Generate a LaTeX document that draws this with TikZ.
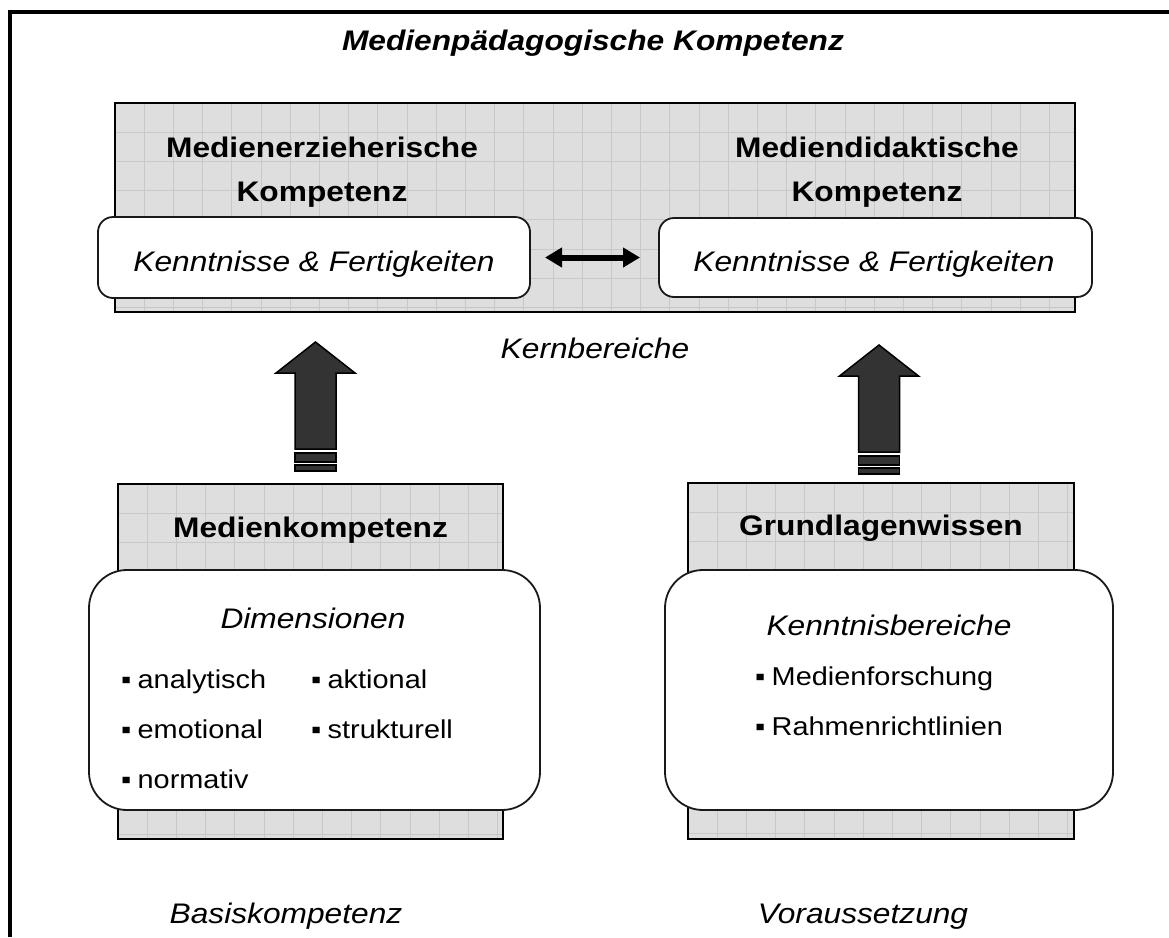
\documentclass[tikz,border=0pt]{standalone}
\usepackage{fontspec}
\setmainfont{Liberation Sans}[FakeStretch=1.12]
\usetikzlibrary{arrows.meta}
\definecolor{panelgray}{HTML}{DEDEDE}
\definecolor{gridgray}{HTML}{C8C8C8}
\definecolor{arrowfill}{HTML}{333333}
\newcommand\bul{\makebox[16.5pt][l]{▪}}
\tikzset{
  blockup/.pic={
    \path[blockfill] (0,0) -- (39.5,31) -- (20.5,31) -- (20.5,107) -- (-20.5,107)
      -- (-20.5,31) -- (-39.5,31) -- cycle;
    \path[blockfill] (-20.5,111) rectangle (20.5,120);
    \path[blockfill] (-20.5,123) rectangle (20.5,129);
  }
}
\begin{document}
\begin{tikzpicture}[x=1pt,y=-1pt,
  panel/.style={fill=panelgray, draw=black, line width=2pt, inner sep=0pt, outer sep=0pt,
    path picture={
      \foreach \k in {1,...,34} {
        \draw[gridgray, line width=0.9pt]
          ([xshift=\k*29.2pt]path picture bounding box.north west) --
          ([xshift=\k*29.2pt]path picture bounding box.south west);
      }
      \foreach \k in {1,...,13} {
        \draw[gridgray, line width=0.9pt]
          ([yshift=-\k*29.2pt]path picture bounding box.north west) --
          ([yshift=-\k*29.2pt]path picture bounding box.north east);
      }
    }},
  card/.style={fill=white, draw=black!90, line width=1.8pt, rounded corners=15pt,
    inner sep=0pt, outer sep=0pt},
  bigcard/.style={card, rounded corners=38pt},
  titletext/.style={font=\fontsize{28.3}{34}\selectfont\bfseries\itshape, inner sep=0pt, anchor=base},
  headtext/.style={font=\fontsize{28.3}{34}\selectfont\bfseries, inner sep=0pt, anchor=base},
  ittext/.style={font=\fontsize{28.3}{34}\selectfont\itshape, inner sep=0pt, anchor=base},
  itemtext/.style={font=\fontsize{25.8}{31}\selectfont, inner sep=0pt, anchor=base west},
  blockfill/.style={fill=arrowfill, draw=black, line width=1.5pt, line join=miter},
  dblarrow/.style={line width=6pt,
    {Triangle[length=17pt,width=19pt]}-{Triangle[length=17pt,width=19pt]}},
]
\useasboundingbox (0,0) rectangle (1169,937);

% outer frame (open to the right and bottom)
\coordinate (fbl) at (9.5,937);
\coordinate (ftl) at (9.5,11.5);
\coordinate (ftr) at (1169,11.5);
\draw[line width=4pt, line join=miter] (fbl) -- (ftl) -- (ftr);

\node[titletext] (title) at (593,50) {Medienpädagogische Kompetenz};

% core area
\node[panel, minimum width=960pt, minimum height=209pt] (kern) at (595,207.5) {};
\node[headtext] (mez1) at (322,157) {Medienerzieherische};
\node[headtext] (mez2) at (322,201) {Kompetenz};
\node[headtext] (mdk1) at (877,157) {Mediendidaktische};
\node[headtext] (mdk2) at (877,201) {Kompetenz};
\node[card, minimum width=432pt, minimum height=81pt] (kfl) at (314,257.5) {};
\node[card, minimum width=433pt, minimum height=79pt] (kfr) at (875.5,257.5) {};
\node[ittext] (kfltext) at (314,271) {Kenntnisse \& Fertigkeiten};
\node[ittext] (kfrtext) at (874,271) {Kenntnisse \& Fertigkeiten};
\draw[dblarrow, shorten <=15pt, shorten >=19pt] (kfl) -- (kfr);
\node[ittext] (kernlabel) at (595,358) {Kernbereiche};

% upward block arrows
\pic at (315.5,342) {blockup};
\pic at (879,345) {blockup};

% media competence
\node[panel, minimum width=385pt, minimum height=355pt] (mk) at (310.5,661.5) {};
\node[headtext] (mktext) at (310.5,537) {Medienkompetenz};
\node[bigcard, minimum width=451pt, minimum height=240pt] (dim) at (314.5,690) {};
\node[ittext] (dimtext) at (313,628) {Dimensionen};
\node[itemtext] (i1) at (121,688) {\bul analytisch};
\node[itemtext] (i2) at (121,738) {\bul emotional};
\node[itemtext] (i3) at (121,788) {\bul normativ};
\node[itemtext] (i4) at (311,688) {\bul aktional};
\node[itemtext] (i5) at (311,738) {\bul strukturell};

% basic knowledge
\node[panel, minimum width=386pt, minimum height=356pt] (gw) at (881,661) {};
\node[headtext] (gwtext) at (881,535) {Grundlagenwissen};
\node[bigcard, minimum width=448pt, minimum height=240pt] (kb) at (889,690) {};
\node[ittext] (kbtext) at (889,635) {Kenntnisbereiche};
\node[itemtext] (j1) at (755,685) {\bul Medienforschung};
\node[itemtext] (j2) at (755,735) {\bul Rahmenrichtlinien};

% bottom captions
\node[ittext] (basis) at (286,923) {Basiskompetenz};
\node[ittext] (vor) at (863,923) {Voraussetzung};
\end{tikzpicture}
\end{document}
